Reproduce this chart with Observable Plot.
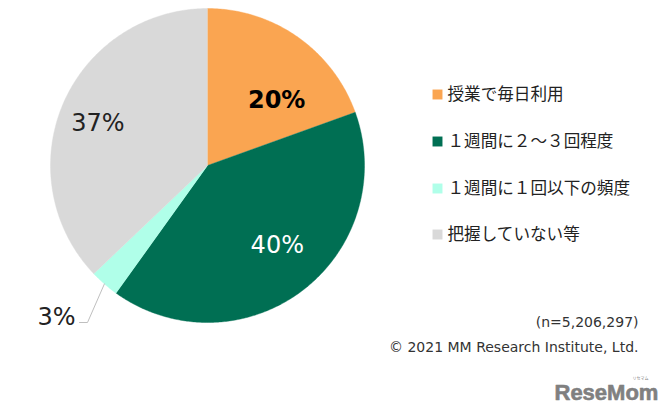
<!DOCTYPE html>
<html lang="ja">
<head>
<meta charset="utf-8">
<script src="https://cdn.jsdelivr.net/npm/d3@7"></script>
<script src="https://cdn.jsdelivr.net/npm/@observablehq/plot@0.6"></script>
<style>
html,body{margin:0;padding:0;background:#fff;}
svg{display:block;}
</style>
</head>
<body>
<div id="chart"></div>
<script>
// Data
const categories = ["授業で毎日利用", "１週間に２～３回程度", "１週間に１回以下の頻度", "把握していない等"];
const shares = [19.5, 40.4, 3.0, 37.1];
const shareLabels = ["20%", "40%", "3%", "37%"];
const colors = ["#FAA551", "#006F53", "#B0FFE9", "#D9D9D9"];
const noteLines = ["(n=5,206,297)", "© 2021 MM Research Institute, Ltd."];

// Layout
const W = 665, H = 415, CX = 207, CY = 165, R = 157;
const FONT = "'DejaVu Sans','Noto Sans CJK JP',sans-serif";
const labelStyle = [
  {dx: 15, dy: 12, weight: "bold", fill: "#000"},
  {dx: 13, dy: 5, weight: "normal", fill: "#fff"},
  {dx: 0, dy: 0, weight: "normal", fill: "#222"},
  {dx: -23, dy: -5, weight: "normal", fill: "#222"}
];
const legendRows = [94, 141, 188, 234];

// Slices in unit-circle coordinates, clockwise from 12 o'clock
const total = d3.sum(shares);
const starts = d3.cumsum([0, ...shares]);
const pt = (share, r = 1) => {
  const a = share / total * 2 * Math.PI;
  return {x: r * Math.sin(a), y: r * Math.cos(a)};
};
const slicePoints = categories.flatMap((name, i) => {
  const from = starts[i], to = starts[i + 1];
  const n = Math.ceil((to - from) * 6);
  return [
    {name, x: 0, y: 0},
    ...d3.range(n + 1).map(k => ({name, ...pt(from + (to - from) * k / n)}))
  ];
});
const mid = i => (starts[i] + starts[i + 1]) / 2;

// The 3% slice has an outside label with a leader line
const outside = 2;
const anchor = pt(mid(outside));
const elbow = {x: (87 - CX) / R, y: (CY - 322) / R};
const leaderEnd = {x: (79 - CX) / R, y: (CY - 322) / R};
const labelPoints = shareLabels.map((label, i) =>
  i === outside
    ? {label, i, x: (56 - CX) / R, y: (CY - 317) / R}
    : {label, i, ...pt(mid(i), 0.6)}
);

const chart = Plot.plot({
  width: W, height: H,
  margin: 0,
  style: {fontFamily: FONT, background: "#fff"},
  x: {domain: [-CX / R, (W - CX) / R], range: [0, W], axis: null},
  y: {domain: [CY / R, (CY - H) / R], range: [0, H], axis: null},
  color: {domain: categories, range: colors},
  marks: [
    Plot.line(slicePoints, {x: "x", y: "y", z: "name", fill: "name", stroke: "name", strokeWidth: 0.4, curve: "linear"}),
    Plot.line([anchor, elbow, leaderEnd], {x: "x", y: "y", stroke: "#BFBFBF", strokeWidth: 1}),
    ...labelPoints.map(d => Plot.text([d], {
      x: "x", y: "y", text: "label", fontSize: 24,
      dx: labelStyle[d.i].dx, dy: labelStyle[d.i].dy,
      fontWeight: labelStyle[d.i].weight, fill: labelStyle[d.i].fill
    })),
    ...categories.flatMap((name, i) => [
      Plot.dot([name], {
        frameAnchor: "top-left", dx: 437, dy: legendRows[i],
        symbol: "square", r: 5.6, fill: d => d, stroke: "none"
      }),
      Plot.text([name], {
        frameAnchor: "top-left", dx: 447, dy: legendRows[i], text: d => d,
        textAnchor: "start", lineAnchor: "middle", fontSize: 16.6, fill: "#222"
      })
    ]),
    Plot.text([noteLines[0]], {frameAnchor: "top-left", dx: 638, dy: 322, text: d => d,
      textAnchor: "end", lineAnchor: "middle", fontSize: 14, fill: "#333"}),
    Plot.text([noteLines[1]], {frameAnchor: "top-left", dx: 638, dy: 347, text: d => d,
      textAnchor: "end", lineAnchor: "middle", fontSize: 14, fill: "#333"}),
    Plot.text(["ReseMom"], {frameAnchor: "top-left", dx: 554, dy: 392, text: d => d,
      textAnchor: "start", lineAnchor: "middle", fontSize: 22, fontWeight: "bold",
      fontFamily: "'Liberation Sans Narrow','Liberation Sans',sans-serif", fill: "#808080",
      stroke: "#808080", strokeWidth: 0.6}),
    Plot.text(["リセマム"], {frameAnchor: "top-left", dx: 648, dy: 378, text: d => d,
      textAnchor: "end", lineAnchor: "middle", fontSize: 4, fill: "#808080"})
  ]
});
document.getElementById("chart").append(chart);
</script>
</body>
</html>
